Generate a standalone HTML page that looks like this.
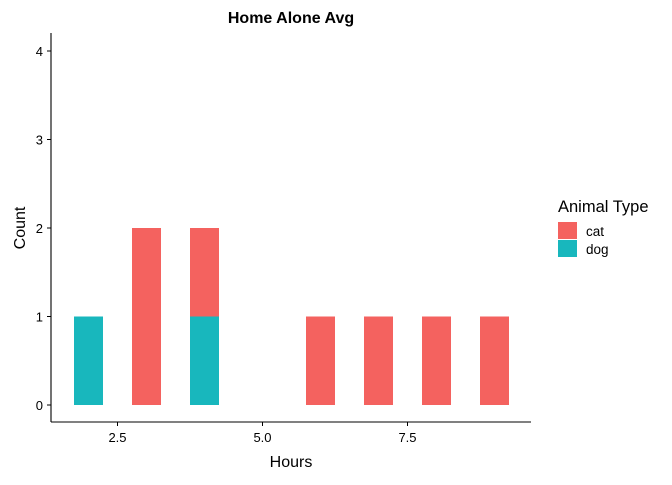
<!DOCTYPE html>
<html><head><meta charset="utf-8"><style>
body{margin:0;background:#fff;font-family:"Liberation Sans",sans-serif}
svg text{font-family:"Liberation Sans",sans-serif}
</style></head><body>
<svg id="c" width="672" height="480">
<text x="291" y="23" text-anchor="middle" font-size="16" font-weight="bold">Home Alone Avg</text>
<g id="plot"></g>
<line x1="51" y1="33" x2="51" y2="422" stroke="#000" stroke-width="1.1"/>
<line x1="51" y1="422" x2="531" y2="422" stroke="#000" stroke-width="1.1"/>
<text x="291" y="467" text-anchor="middle" font-size="16">Hours</text>
<text transform="translate(25,228) rotate(-90)" text-anchor="middle" font-size="16">Count</text>
<g>
<text x="558" y="212" font-size="16.5">Animal Type</text>
<rect x="558" y="222" width="19" height="17" fill="#F4625F"/>
<text x="586" y="236" font-size="13.5">cat</text>
<rect x="558" y="240" width="19" height="17" fill="#18B7BD"/>
<text x="586" y="254" font-size="13.5">dog</text>
</g>
</svg>
<script>
const hours=[2,3,4,6,7,8,9];
const dogCounts=[1,0,1,0,0,0,0];
const catCounts=[0,2,1,1,1,1,1];
const xTicks=[2.5,5.0,7.5];
const xTickLabels=["2.5","5.0","7.5"];
const yTicks=[0,1,2,3,4];
const ns="http://www.w3.org/2000/svg";
const X=v=>117.5+(v-2.5)*58;
const Y=v=>405-v*88.5;
const g=document.getElementById('plot');
function mk(t,a){const e=document.createElementNS(ns,t);for(const k in a)e.setAttribute(k,a[k]);g.appendChild(e);return e;}
hours.forEach((h,i)=>{
  const x0=X(h-0.25),w=X(h+0.25)-x0;
  if(dogCounts[i]>0){const r=mk('rect',{x:x0,y:Y(dogCounts[i]),width:w,height:Y(0)-Y(dogCounts[i]),fill:'#18B7BD'});
    
    }
  if(catCounts[i]>0){const b=dogCounts[i],t=b+catCounts[i];
    const r=mk('rect',{x:x0,y:Y(t),width:w,height:Y(b)-Y(t),fill:'#F4625F'});
    
    }
});
xTicks.forEach((v,i)=>{
  const l=mk('line',{x1:X(v),x2:X(v),y1:422,y2:426,stroke:'#000'});
  
  
  const t=mk('text',{x:X(v),y:442,'text-anchor':'middle','font-size':13});
  t.textContent=xTickLabels[i];
  
  
});
yTicks.forEach(v=>{
  const l=mk('line',{x1:47,x2:51,y1:Y(v),y2:Y(v),stroke:'#000'});
  
  
  const t=mk('text',{x:43,y:Y(v)+5,'text-anchor':'end','font-size':13});
  t.textContent=v;
  
  
});
</script>
</body></html>
